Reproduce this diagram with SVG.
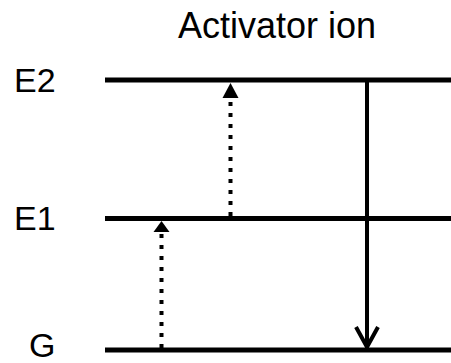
<svg xmlns="http://www.w3.org/2000/svg" width="451" height="363" viewBox="0 0 451 363">
<style>
text{font-family:"Liberation Sans",Arial,sans-serif;fill:#000}
.lvl{stroke:#000;stroke-width:5}
.dot{stroke:#000;stroke-width:4;stroke-dasharray:4 7;fill:none}
.sol{stroke:#000;stroke-width:4;fill:none}
</style>
<defs>
<marker id="tri" viewBox="0 0 16 12" refX="8" refY="0" markerWidth="16" markerHeight="12" markerUnits="userSpaceOnUse" orient="auto-start-reverse">
<path d="M0,12 L8,0 L16,12 Z" fill="#000"/>
</marker>
</defs>
<rect width="451" height="363" fill="#fff"/>
<text x="277" y="38" font-size="36" text-anchor="middle">Activator ion</text>
<g id="E2"><text x="14" y="92" font-size="34">E2</text><line class="lvl" x1="105" y1="80" x2="451" y2="80"/></g>
<g id="E1"><text x="14" y="230" font-size="34">E1</text><line class="lvl" x1="105" y1="218.5" x2="451" y2="218.5"/></g>
<g id="G"><text x="29" y="357" font-size="34">G</text><line class="lvl" x1="105" y1="350" x2="451" y2="350"/></g>
<g id="connectors">
<line class="dot" x1="161.5" y1="348" x2="161.5" y2="232"/>
<path d="M153.5,232 L161.5,221 L169.5,232 Z" fill="#000"/>
<line class="dot" x1="230.5" y1="216" x2="230.5" y2="98"/>
<path d="M222.5,98 L230.5,83 L238.5,98 Z" fill="#000"/>
<line class="sol" x1="367" y1="80" x2="367" y2="348"/>
<path class="sol" d="M356,327 L367,347 L378,327"/>
</g>
</svg>
